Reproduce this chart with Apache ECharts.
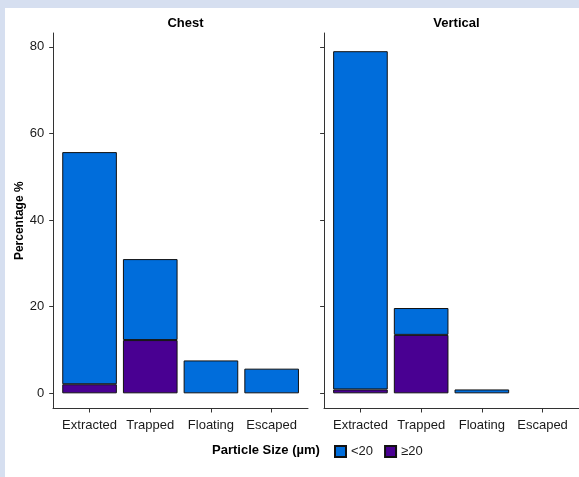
<!DOCTYPE html>
<html>
<head>
<meta charset="utf-8">
<script src="https://cdn.jsdelivr.net/npm/echarts@6/dist/echarts.min.js"></script>
<style>
  html, body { margin: 0; padding: 0; }
  #wrap { position: relative; width: 579px; height: 477px; background: #d6dff0; overflow: hidden; }
  #panel { position: absolute; left: 5px; top: 8px; width: 574px; height: 469px; background: #ffffff; }
  #chart { position: absolute; left: 0; top: 0; width: 579px; height: 477px; }
</style>
</head>
<body>
<div id="wrap">
  <div id="panel"></div>
  <div id="chart"></div>
</div>
<script>
// data
var categories = ["Extracted", "Trapped", "Floating", "Escaped"];
var facets = ["Chest", "Vertical"];
var sizeGroups = ["<20", "\u226520"];
// percentage per category, split by particle size
var chestSmall = [53.6, 18.7, 7.6, 5.7];
var chestLarge = [2.1, 12.3, "-", "-"];
var verticalSmall = [78.1, 6.2, 0.9, "-"];
var verticalLarge = [0.9, 13.5, "-", "-"];
var yTicks = [0, 20, 40, 60, 80];

var colors = { "<20": "#006ddb", "\u226520": "#490092" };
var font = "Liberation Sans, Arial, sans-serif";
var yMin = -3.5, yMax = 83.2;
var gridTop = 33, gridHeight = 375.5;

var chart = echarts.init(document.getElementById("chart"));

function barSeries(name, data, idx) {
    return {
        name: name,
        type: "bar",
        stack: "facet" + idx,
        xAxisIndex: idx,
        yAxisIndex: idx,
        data: data,
        barCategoryGap: "10%",
        itemStyle: {
            color: colors[name],
            borderColor: "#111",
            borderWidth: 1
        },
        emphasis: { disabled: true }
    };
}

function catAxis(idx) {
    return {
        type: "category",
        gridIndex: idx,
        data: categories,
        axisLine: { show: false, onZero: false },
        axisTick: { show: true, alignWithLabel: true, length: 4, lineStyle: { color: "#333" } },
        axisLabel: { color: "#1a1a1a", fontSize: 13, fontFamily: font, margin: 10, interval: 0 },
        splitLine: { show: false }
    };
}

function valAxis(idx, showLabels) {
    return {
        type: "value",
        gridIndex: idx,
        min: yMin,
        max: yMax,
        offset: 6,
        name: showLabels ? "Percentage %" : "",
        nameLocation: "middle",
        nameGap: 28,
        nameTextStyle: { fontSize: 12, fontWeight: "bold", color: "#000", fontFamily: font },
        axisLine: { show: true, lineStyle: { color: "#333", width: 1 } },
        axisTick: { show: true, length: 4, customValues: yTicks, lineStyle: { color: "#333" } },
        axisLabel: { show: showLabels, customValues: yTicks, color: "#1a1a1a", fontSize: 13, fontFamily: font, margin: 9 },
        splitLine: { show: false }
    };
}

// hidden helper axes that only draw the full-width x axis lines
function lineXAxis(idx) {
    return {
        type: "value", gridIndex: idx, min: 0, max: 1,
        axisLine: { show: true, onZero: false, lineStyle: { color: "#333", width: 1 } },
        axisTick: { show: false }, axisLabel: { show: false }, splitLine: { show: false }
    };
}
function lineYAxis(idx) {
    return {
        type: "value", gridIndex: idx, min: 0, max: 1, show: false
    };
}

var option = {
    animation: false,
    textStyle: { fontFamily: font },
    title: [
        { text: facets[0], left: 180.5, top: 12, textAlign: "center",
          textStyle: { fontSize: 13, fontWeight: "bold", color: "#000", fontFamily: font } },
        { text: facets[1], left: 451.5, top: 12, textAlign: "center",
          textStyle: { fontSize: 13, fontWeight: "bold", color: "#000", fontFamily: font } }
    ],
    grid: [
        { left: 59.2, width: 242.8, top: gridTop, height: gridHeight },
        { left: 330.1, width: 242.8, top: gridTop, height: gridHeight },
        { left: 53, width: 255, top: gridTop, height: gridHeight },
        { left: 324, width: 255, top: gridTop, height: gridHeight }
    ],
    xAxis: [catAxis(0), catAxis(1), lineXAxis(2), lineXAxis(3)],
    yAxis: [valAxis(0, true), valAxis(1, false), lineYAxis(2), lineYAxis(3)],
    legend: {
        data: sizeGroups,
        left: 329,
        top: 440,
        icon: "rect",
        itemWidth: 11,
        itemHeight: 11,
        itemGap: 11,
        textStyle: { fontSize: 13, color: "#1a1a1a", fontFamily: font },
        selectedMode: false
    },
    graphic: [
        { type: "text", left: 212, top: 443.5,
          style: { text: "Particle Size (\u00b5m)", fill: "#000", font: "bold 13px " + font } }
    ],
    series: [
        barSeries(sizeGroups[1], chestLarge, 0),
        barSeries(sizeGroups[0], chestSmall, 0),
        barSeries(sizeGroups[1], verticalLarge, 1),
        barSeries(sizeGroups[0], verticalSmall, 1)
    ]
};

chart.setOption(option);
</script>
</body>
</html>
